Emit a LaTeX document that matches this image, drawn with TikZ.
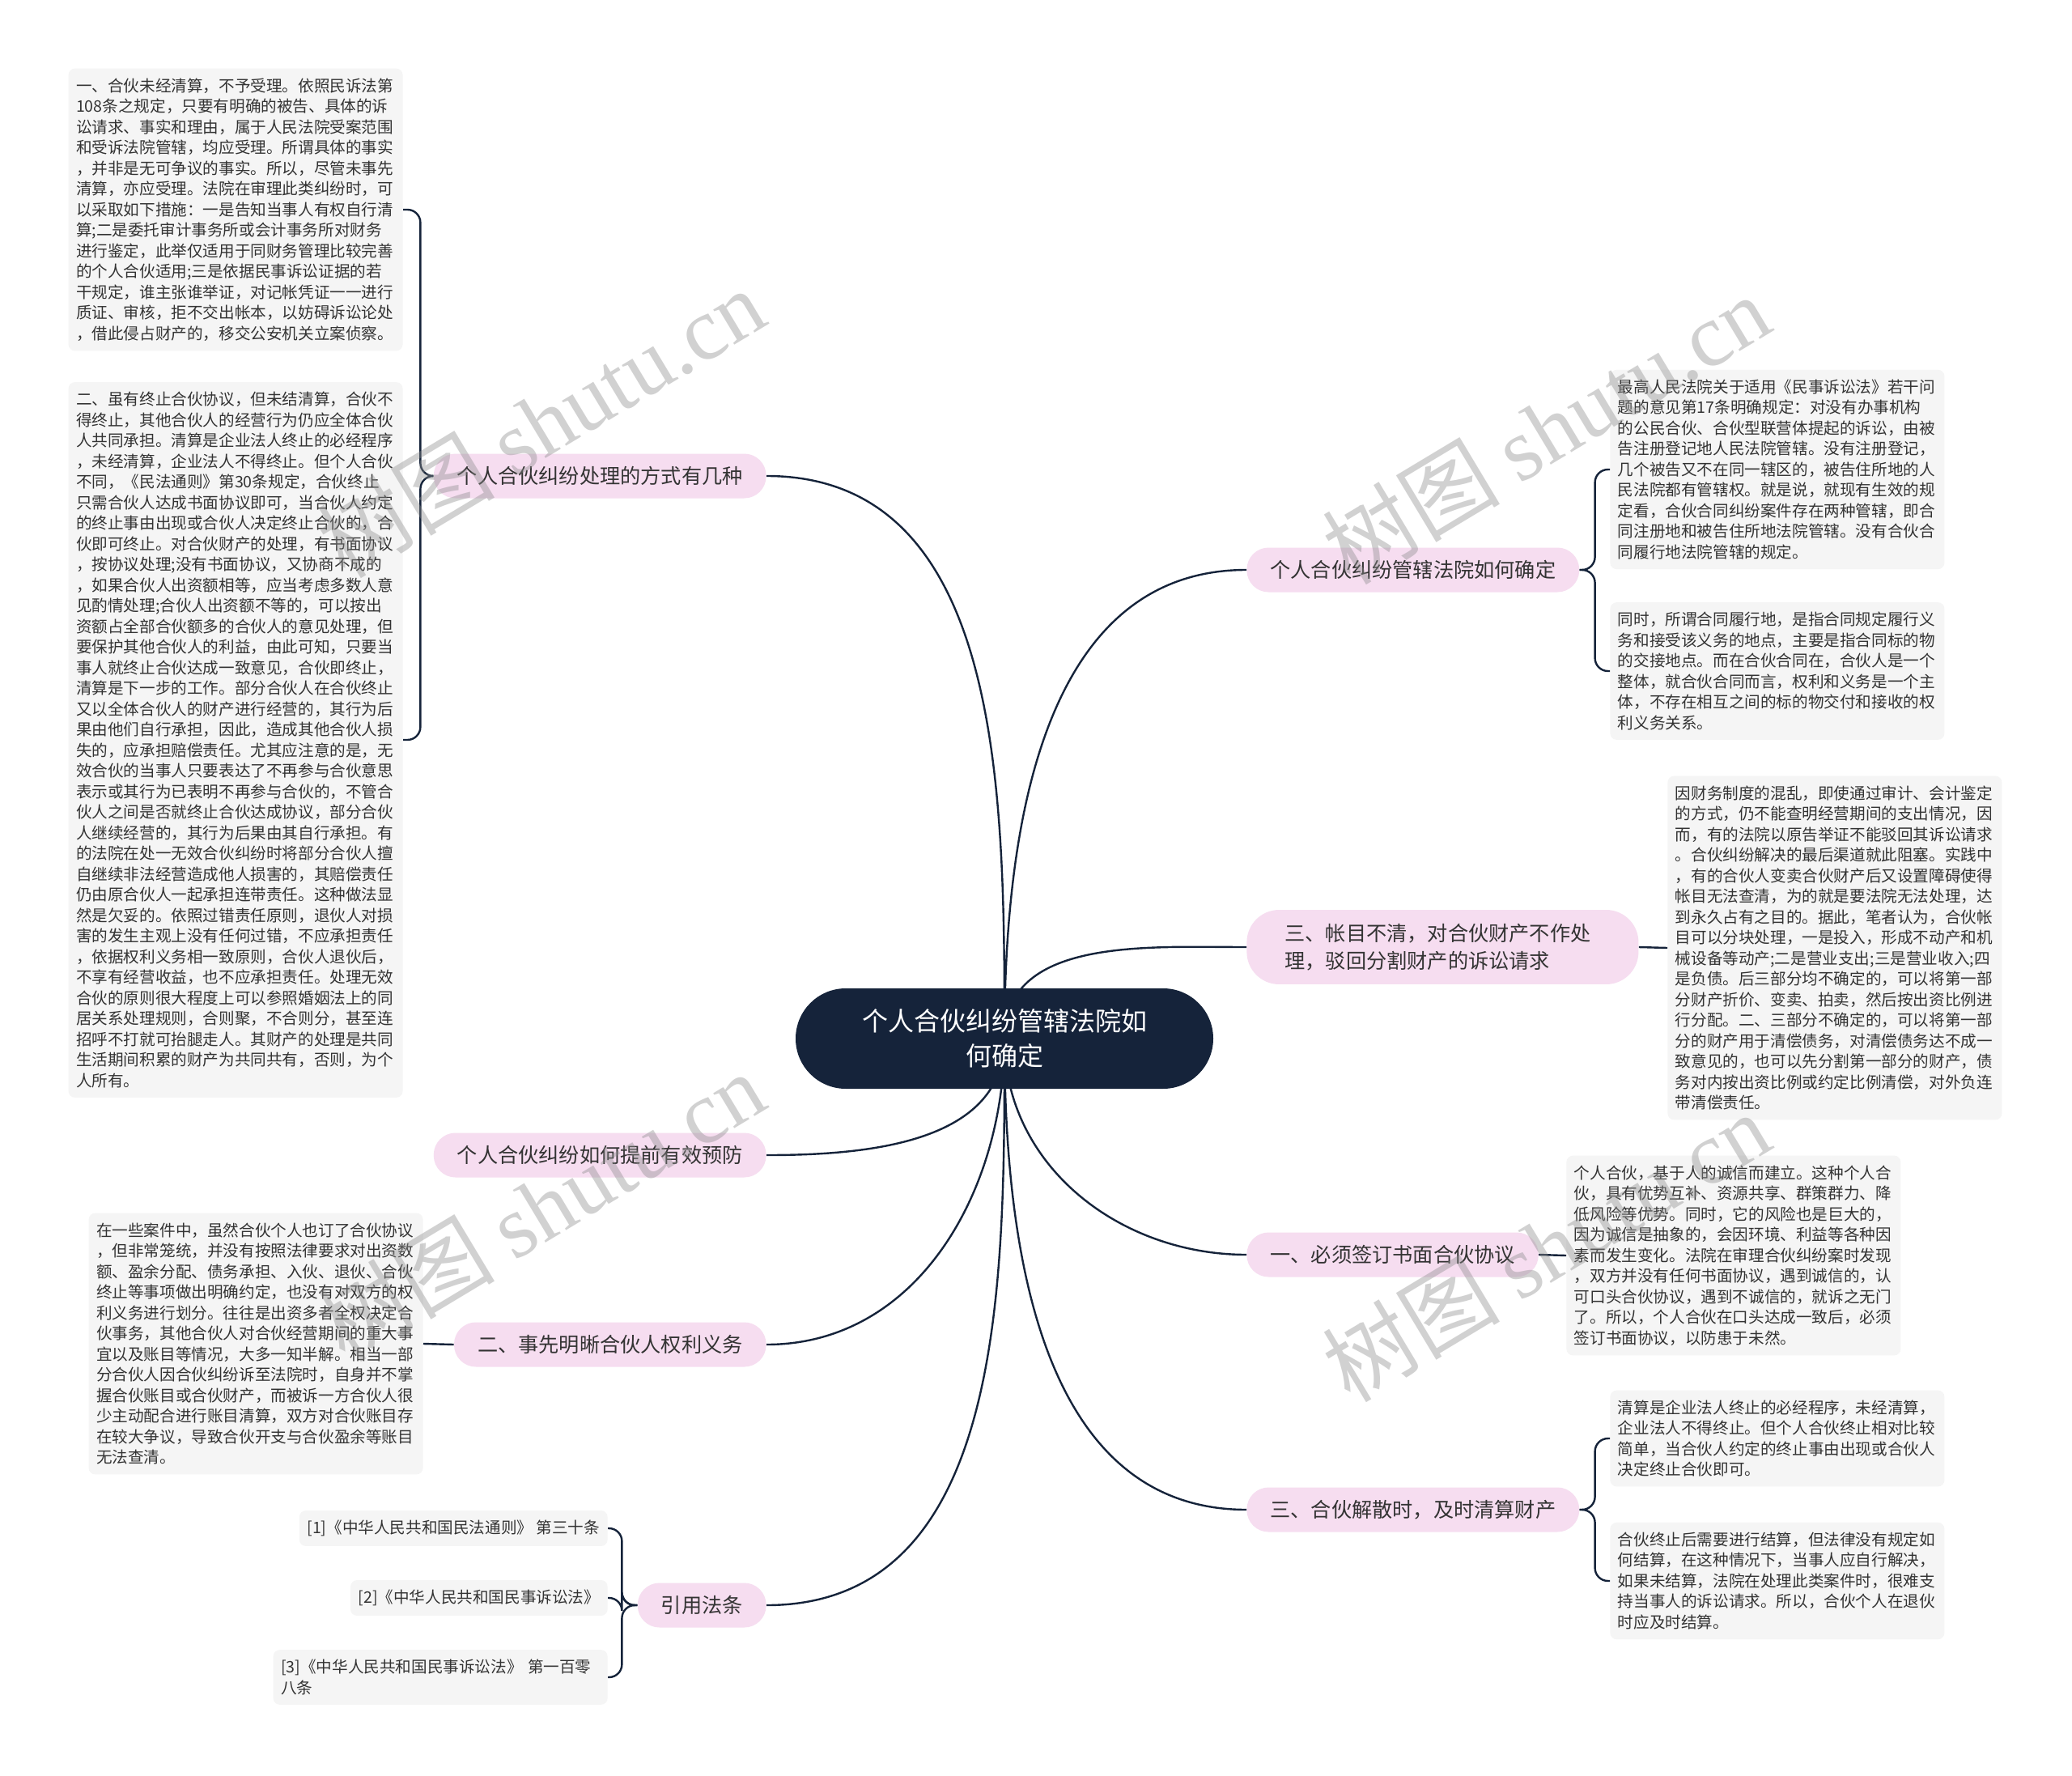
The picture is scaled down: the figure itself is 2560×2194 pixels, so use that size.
\documentclass[tikz,border=0pt]{standalone}
\usepackage{fontspec}
\setmainfont{Noto Sans CJK SC}
\newfontfamily\wmfont{Liberation Serif}
\definecolor{navy}{HTML}{15233A}
\definecolor{branchpink}{HTML}{F6DDF0}
\definecolor{leafgray}{HTML}{F5F5F5}
\definecolor{inkgray}{HTML}{333333}
\begin{document}
\begin{tikzpicture}[x=.5pt, y=-.5pt,
  link/.style={draw=navy, line width=1.2pt},
  hubnode/.style={fill=navy, text=white, rounded corners=31pt, minimum height=62pt,
    text width=186pt, align=center, inner xsep=36pt, font=\fontsize{16}{21.7}\selectfont},
  branch/.style={fill=branchpink, text=inkgray, rounded corners=13.5pt, minimum height=27.5pt,
    inner xsep=14.5pt, font=\fontsize{12.6}{17}\selectfont},
  leaf/.style={fill=leafgray, text=inkgray, rounded corners=4pt, inner xsep=4.75pt,
    inner ysep=6pt, align=left, font=\fontsize{9.8}{12.75}\selectfont},
  leafwide/.style={leaf, text width=197pt},
  wmark/.style={text=black!45, opacity=.4, rotate=31, font=\fontsize{55}{55}\selectfont}]
  \fill[white] (0,0) rectangle (2560,2194);
  \useasboundingbox (0,0) rectangle (2560,2194);
  \coordinate (ctr) at (1241,1283);

  \node[branch, anchor=east] (pway) at (947,588) {个人合伙纠纷处理的方式有几种};
  \node[branch, anchor=east] (pprev) at (947,1427) {个人合伙纠纷如何提前有效预防};
  \node[branch, anchor=east] (prights) at (947,1661) {二、事先明晰合伙人权利义务};
  \node[branch, anchor=east] (plaw) at (947,1983) {引用法条};
  \node[branch, anchor=west] (pcourt) at (1540,704) {个人合伙纠纷管辖法院如何确定};
  \node[branch, anchor=west, align=left, text width=195pt, rounded corners=20pt,
    inner xsep=23.5pt, inner ysep=8.5pt] (paccount) at (1540,1170)
    {三、帐目不清，对合伙财产不作处\\理，驳回分割财产的诉讼请求};
  \node[branch, anchor=west] (pwritten) at (1540,1550) {一、必须签订书面合伙协议};
  \node[branch, anchor=west] (psettle) at (1540,1865) {三、合伙解散时，及时清算财产};

  \node[leafwide, anchor=east] (way1) at (498,259) {一、合伙未经清算，不予受理。依照民诉法第\\
108条之规定，只要有明确的被告、具体的诉\\
讼请求、事实和理由，属于人民法院受案范围\\
和受诉法院管辖，均应受理。所谓具体的事实\\
，并非是无可争议的事实。所以，尽管未事先\\
清算，亦应受理。法院在审理此类纠纷时，可\\
以采取如下措施：一是告知当事人有权自行清\\
算;二是委托审计事务所或会计事务所对财务\\
进行鉴定，此举仅适用于同财务管理比较完善\\
的个人合伙适用;三是依据民事诉讼证据的若\\
干规定，谁主张谁举证，对记帐凭证一一进行\\
质证、审核，拒不交出帐本，以妨碍诉讼论处\\
，借此侵占财产的，移交公安机关立案侦察。};
  \node[leafwide, anchor=east] (way2) at (498,914) {二、虽有终止合伙协议，但未结清算，合伙不\\
得终止，其他合伙人的经营行为仍应全体合伙\\
人共同承担。清算是企业法人终止的必经程序\\
，未经清算，企业法人不得终止。但个人合伙\\
不同，《民法通则》第30条规定，合伙终止\\
只需合伙人达成书面协议即可，当合伙人约定\\
的终止事由出现或合伙人决定终止合伙的，合\\
伙即可终止。对合伙财产的处理，有书面协议\\
，按协议处理;没有书面协议，又协商不成的\\
，如果合伙人出资额相等，应当考虑多数人意\\
见酌情处理;合伙人出资额不等的，可以按出\\
资额占全部合伙额多的合伙人的意见处理，但\\
要保护其他合伙人的利益，由此可知，只要当\\
事人就终止合伙达成一致意见，合伙即终止，\\
清算是下一步的工作。部分合伙人在合伙终止\\
又以全体合伙人的财产进行经营的，其行为后\\
果由他们自行承担，因此，造成其他合伙人损\\
失的，应承担赔偿责任。尤其应注意的是，无\\
效合伙的当事人只要表达了不再参与合伙意思\\
表示或其行为已表明不再参与合伙的，不管合\\
伙人之间是否就终止合伙达成协议，部分合伙\\
人继续经营的，其行为后果由其自行承担。有\\
的法院在处一无效合伙纠纷时将部分合伙人擅\\
自继续非法经营造成他人损害的，其赔偿责任\\
仍由原合伙人一起承担连带责任。这种做法显\\
然是欠妥的。依照过错责任原则，退伙人对损\\
害的发生主观上没有任何过错，不应承担责任\\
，依据权利义务相一致原则，合伙人退伙后，\\
不享有经营收益，也不应承担责任。处理无效\\
合伙的原则很大程度上可以参照婚姻法上的同\\
居关系处理规则，合则聚，不合则分，甚至连\\
招呼不打就可抬腿走人。其财产的处理是共同\\
生活期间积累的财产为共同共有，否则，为个\\
人所有。};
  \node[leafwide, anchor=east] (rights1) at (523,1660) {在一些案件中，虽然合伙个人也订了合伙协议\\
，但非常笼统，并没有按照法律要求对出资数\\
额、盈余分配、债务承担、入伙、退伙、合伙\\
终止等事项做出明确约定，也没有对双方的权\\
利义务进行划分。往往是出资多者全权决定合\\
伙事务，其他合伙人对合伙经营期间的重大事\\
宜以及账目等情况，大多一知半解。相当一部\\
分合伙人因合伙纠纷诉至法院时，自身并不掌\\
握合伙账目或合伙财产，而被诉一方合伙人很\\
少主动配合进行账目清算，双方对合伙账目存\\
在较大争议，导致合伙开支与合伙盈余等账目\\
无法查清。};
  \node[leaf, anchor=east] (law1) at (751,1888) {[1]《中华人民共和国民法通则》 第三十条};
  \node[leaf, anchor=east] (law2) at (751,1974) {[2]《中华人民共和国民事诉讼法》};
  \node[leafwide, anchor=east] (law3) at (751,2072) {[3]《中华人民共和国民事诉讼法》 第一百零\\八条};

  \node[leafwide, anchor=west] (court1) at (1989,580) {最高人民法院关于适用《民事诉讼法》若干问\\
题的意见第17条明确规定：对没有办事机构\\
的公民合伙、合伙型联营体提起的诉讼，由被\\
告注册登记地人民法院管辖。没有注册登记，\\
几个被告又不在同一辖区的，被告住所地的人\\
民法院都有管辖权。就是说，就现有生效的规\\
定看，合伙合同纠纷案件存在两种管辖，即合\\
同注册地和被告住所地法院管辖。没有合伙合\\
同履行地法院管辖的规定。};
  \node[leafwide, anchor=west] (court2) at (1989,829) {同时，所谓合同履行地，是指合同规定履行义\\
务和接受该义务的地点，主要是指合同标的物\\
的交接地点。而在合伙合同在，合伙人是一个\\
整体，就合伙合同而言，权利和义务是一个主\\
体，不存在相互之间的标的物交付和接收的权\\
利义务关系。};
  \node[leafwide, anchor=west] (account1) at (2060,1171) {因财务制度的混乱，即使通过审计、会计鉴定\\
的方式，仍不能查明经营期间的支出情况，因\\
而，有的法院以原告举证不能驳回其诉讼请求\\
。合伙纠纷解决的最后渠道就此阻塞。实践中\\
，有的合伙人变卖合伙财产后又设置障碍使得\\
帐目无法查清，为的就是要法院无法处理，达\\
到永久占有之目的。据此，笔者认为，合伙帐\\
目可以分块处理，一是投入，形成不动产和机\\
械设备等动产;二是营业支出;三是营业收入;四\\
是负债。后三部分均不确定的，可以将第一部\\
分财产折价、变卖、拍卖，然后按出资比例进\\
行分配。二、三部分不确定的，可以将第一部\\
分的财产用于清偿债务，对清偿债务达不成一\\
致意见的，也可以先分割第一部分的财产，债\\
务对内按出资比例或约定比例清偿，对外负连\\
带清偿责任。};
  \node[leafwide, anchor=west] (written1) at (1935,1551) {个人合伙，基于人的诚信而建立。这种个人合\\
伙，具有优势互补、资源共享、群策群力、降\\
低风险等优势。同时，它的风险也是巨大的，\\
因为诚信是抽象的，会因环境、利益等各种因\\
素而发生变化。法院在审理合伙纠纷案时发现\\
，双方并没有任何书面协议，遇到诚信的，认\\
可口头合伙协议，遇到不诚信的，就诉之无门\\
了。所以，个人合伙在口头达成一致后，必须\\
签订书面协议，以防患于未然。};
  \node[leafwide, anchor=west] (settle1) at (1989,1777) {清算是企业法人终止的必经程序，未经清算，\\
企业法人不得终止。但个人合伙终止相对比较\\
简单，当合伙人约定的终止事由出现或合伙人\\
决定终止合伙即可。};
  \node[leafwide, anchor=west] (settle2) at (1989,1953) {合伙终止后需要进行结算，但法律没有规定如\\
何结算，在这种情况下，当事人应自行解决，\\
如果未结算，法院在处理此类案件时，很难支\\
持当事人的诉讼请求。所以，合伙个人在退伙\\
时应及时结算。};

  \draw[link] (ctr) to[out=90,in=0] (pway.east);
  \draw[link] (ctr) to[out=-90,in=0] (pprev.east);
  \draw[link] (ctr) to[out=-90,in=0] (prights.east);
  \draw[link] (ctr) to[out=-90,in=0] (plaw.east);
  \draw[link] (ctr) to[out=90,in=180] (pcourt.west);
  \draw[link] (ctr) to[out=90,in=180] (paccount.west);
  \draw[link] (ctr) to[out=-90,in=180] (pwritten.west);
  \draw[link] (ctr) to[out=-90,in=180] (psettle.west);

  \draw[link, rounded corners=8pt] (pway.west) -- ++(-16,0) |- (way1.east);
  \draw[link, rounded corners=8pt] (pway.west) -- ++(-16,0) |- (way2.east);
  \draw[link] (prights.west) -- (rights1.east);
  \draw[link, rounded corners=8pt] (plaw.west) -- ++(-19,0) |- (law1.east);
  \draw[link, rounded corners=8pt] (plaw.west) -- ++(-19,0) |- (law2.east);
  \draw[link, rounded corners=8pt] (plaw.west) -- ++(-19,0) |- (law3.east);
  \draw[link, rounded corners=8pt] (pcourt.east) -- ++(19,0) |- (court1.west);
  \draw[link, rounded corners=8pt] (pcourt.east) -- ++(19,0) |- (court2.west);
  \draw[link] (paccount.east) -- (account1.west);
  \draw[link] (pwritten.east) -- (written1.west);
  \draw[link, rounded corners=8pt] (psettle.east) -- ++(19,0) |- (settle1.west);
  \draw[link, rounded corners=8pt] (psettle.east) -- ++(19,0) |- (settle2.west);

  \node[hubnode] (hub) at (ctr) {个人合伙纠纷管辖法院如\\何确定};

  \foreach \wx/\wy in {668/522, 1910/530, 668/1490, 1910/1540}
    \node[wmark] at (\wx,\wy) {树图 {\wmfont shutu.cn}};
\end{tikzpicture}
\end{document}
